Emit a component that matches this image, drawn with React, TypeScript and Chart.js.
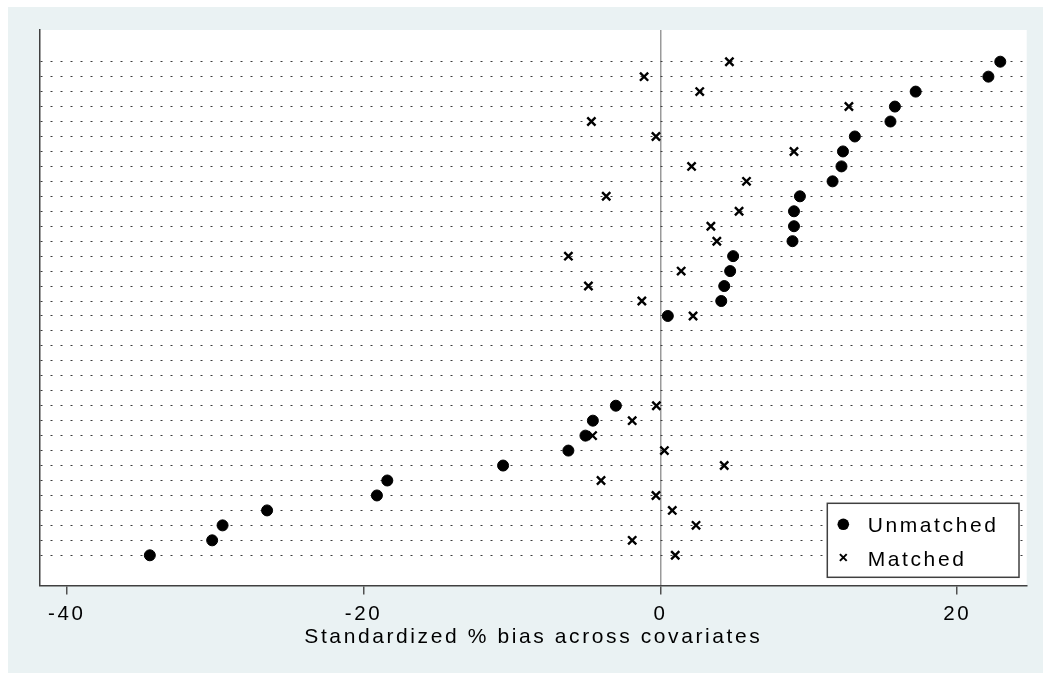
import { useEffect, useRef } from 'react';
import { Chart, registerables } from 'chart.js';

Chart.register(...registerables);

// Covariate rows (top to bottom), sorted by unmatched bias
const covariateRows = [
  1, 2, 3, 4, 5, 6, 7, 8, 9, 10, 11, 12, 13, 14, 15, 16, 17,
  18, 19, 20, 21, 22, 23, 24, 25, 26, 27, 28, 29, 30, 31, 32, 33, 34,
];

const unmatchedBias: (number | null)[] = [
  22.9, 22.1, 17.2, 15.8, 15.5, 13.1, 12.3, 12.2, 11.6, 9.4, 9.0, 9.0,
  8.9, 4.9, 4.7, 4.3, 4.1, 0.5, null, null, null, null, null, -3.0,
  -4.55, -5.05, -6.2, -10.6, -18.4, -19.1, -26.5, -29.5, -30.2, -34.4,
];

const matchedBias: (number | null)[] = [
  4.65, -1.1, 2.65, 12.7, -4.65, -0.3, 9.0, 2.1, 5.8, -3.65, 5.3, 3.4,
  3.8, -6.2, 1.4, -4.85, -1.25, 2.2, null, null, null, null, null, -0.27,
  -1.9, -4.57, 0.27, 4.3, -4.0, -0.3, 0.8, 2.4, -1.9, 1.0,
];

const xTickValues = [-40, -20, 0, 20];
const seriesLabels = ['Unmatched', 'Matched'];
const xAxisTitle = 'Standardized % bias across covariates';

const FONT = '"Liberation Sans", Arial, Helvetica, sans-serif';
const SPACING = '2.6px';
const BG = '#eaf2f3';

const toPoints = (vals: (number | null)[]) =>
  covariateRows
    .map((row, i) => (vals[i] == null ? null : { x: vals[i] as number, y: row }))
    .filter((p) => p !== null) as { x: number; y: number }[];

const stylePlugin = {
  id: 'stataStyle',
  beforeUpdate(chart: any) {
    chart.ctx.letterSpacing = SPACING;
  },
  beforeDraw(chart: any) {
    const { ctx, chartArea, width, height } = chart;
    ctx.letterSpacing = SPACING;
    ctx.save();
    ctx.fillStyle = BG;
    ctx.fillRect(0, 0, width, height);
    ctx.fillStyle = '#ffffff';
    ctx.fillRect(chartArea.left, chartArea.top, chartArea.right - chartArea.left, chartArea.bottom - chartArea.top);
    ctx.restore();
  },
  afterDraw(chart: any) {
    const { ctx, chartArea } = chart;
    const w = 191.7;
    const h = 74;
    const right = chartArea.right - 7.7;
    const bottom = chartArea.bottom - 8.2;
    const left = right - w;
    const top = bottom - h;
    ctx.save();
    ctx.fillStyle = '#ffffff';
    ctx.fillRect(left, top, w, h);
    ctx.strokeStyle = '#404040';
    ctx.lineWidth = 1.5;
    ctx.strokeRect(left, top, w, h);
    const mx = left + 16;
    const tx = left + 40.4;
    const y1 = top + 21;
    const y2 = top + 54.2;
    ctx.fillStyle = '#000';
    ctx.beginPath();
    ctx.arc(mx, y1, 5.8, 0, Math.PI * 2);
    ctx.fill();
    ctx.strokeStyle = '#000';
    ctx.lineWidth = 2;
    const d = 3.4;
    ctx.beginPath();
    ctx.moveTo(mx - d, y2 - d);
    ctx.lineTo(mx + d, y2 + d);
    ctx.moveTo(mx + d, y2 - d);
    ctx.lineTo(mx - d, y2 + d);
    ctx.stroke();
    ctx.font = `21px ${FONT}`;
    ctx.letterSpacing = SPACING;
    ctx.textAlign = 'left';
    ctx.textBaseline = 'alphabetic';
    ctx.fillStyle = '#000';
    const labels = chart.data.datasets.map((ds: any) => ds.label);
    ctx.fillText(labels[0], tx, top + 28.4);
    ctx.fillText(labels[1], tx, top + 62.4);
    ctx.restore();
  },
};

export default function App() {
  const ref = useRef<HTMLCanvasElement>(null);

  useEffect(() => {
    const canvas = ref.current!;
    const chart = new Chart(canvas, {
      type: 'scatter',
      data: {
        datasets: [
          {
            label: seriesLabels[0],
            data: toPoints(unmatchedBias),
            pointStyle: 'circle',
            pointRadius: 5.5,
            pointBorderWidth: 1,
            backgroundColor: '#000',
            borderColor: '#000',
          },
          {
            label: seriesLabels[1],
            data: toPoints(matchedBias),
            pointStyle: 'crossRot',
            pointRadius: 5.8,
            pointBorderWidth: 2.4,
            backgroundColor: '#000',
            borderColor: '#000',
          },
        ],
      },
      options: {
        animation: false,
        responsive: false,
        devicePixelRatio: 1,
        layout: { padding: { top: 23, left: 0, right: 16.3, bottom: 0 } },
        plugins: {
          legend: { display: false },
          tooltip: { enabled: false },
        },
        scales: {
          x: {
            type: 'linear',
            min: -41.8,
            max: 24.68,
            afterBuildTicks: (scale: any) => {
              scale.ticks = xTickValues.map((v) => ({ value: v }));
            },
            afterFit: (scale: any) => {
              scale.height = 87.5;
            },
            grid: {
              color: (c: any) => (c.tick && c.tick.value === 0 ? '#9a9a9a' : 'rgba(0,0,0,0)'),
              lineWidth: 1.5,
              drawTicks: true,
              tickLength: 9,
              tickColor: '#505050',
              tickWidth: 1.5,
            },
            border: { display: true, color: '#404040', width: 1.5 },
            ticks: {
              color: '#000',
              padding: 7.5,
              maxRotation: 0,
              font: { family: FONT, size: 20.5 },
            },
            title: {
              display: true,
              text: xAxisTitle,
              color: '#000',
              font: { family: FONT, size: 21 },
              padding: { top: 0, bottom: 23.6 },
            },
          },
          y: {
            type: 'linear',
            reverse: true,
            min: -1.119,
            max: 36.02,
            afterBuildTicks: (scale: any) => {
              scale.ticks = covariateRows.map((v) => ({ value: v }));
            },
            afterFit: (scale: any) => {
              scale.width = 32;
            },
            grid: {
              color: '#3c3c3c',
              lineWidth: 1,
              drawTicks: false,
            },
            border: { display: true, color: '#404040', width: 1.5, dash: [2, 8] },
            ticks: { display: false },
          },
        },
      },
      plugins: [stylePlugin],
    } as any);
    return () => chart.destroy();
  }, []);

  return (
    <div style={{ position: 'fixed', left: 8, top: 7, width: 1035, height: 666 }}>
      <canvas ref={ref} width={1035} height={666} style={{ display: 'block', width: 1035, height: 666 }} />
    </div>
  );
}
